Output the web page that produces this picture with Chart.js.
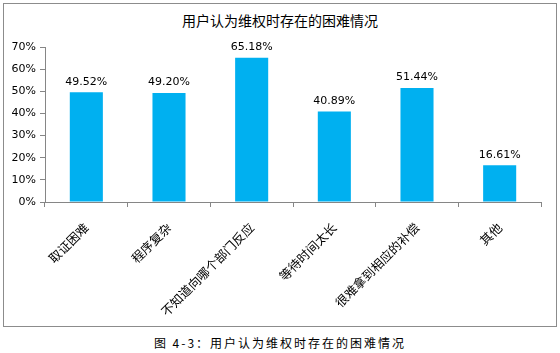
<!DOCTYPE html>
<html>
<head>
<meta charset="utf-8">
<script src="https://cdn.jsdelivr.net/npm/chart.js@4.4.0/dist/chart.umd.min.js"></script>
<style>
    body { margin: 0; background: #fff; }
    .frame { position: absolute; left: 3px; top: 3px; width: 552px; height: 322px; border: 1px solid #8c8c8c; }
    .title { position: absolute; left: 0; top: 10px; width: 560px; text-align: center; font: 14px "Noto Sans CJK SC", sans-serif; color: #000; }
    .wrap { position: absolute; left: 0; top: 0; width: 560px; height: 330px; }
    .caption { position: absolute; left: 0; top: 334px; width: 560px; text-align: center; font: 12px "Noto Sans CJK SC", serif; letter-spacing: 2px; color: #000; }
</style>
</head>
<body>
<div class="frame"></div>
<div class="title">用户认为维权时存在的困难情况</div>
<div class="wrap"><canvas id="chart"></canvas></div>
<div class="caption">图 4-3：用户认为维权时存在的困难情况</div>
<script>
const categories = ['取证困难', '程序复杂', '不知道向哪个部门反应', '等待时间太长', '很难拿到相应的补偿', '其他'];
const values = [49.52, 49.20, 65.18, 40.89, 51.44, 16.61];
const yTicks = [0, 10, 20, 30, 40, 50, 60, 70];

const barLabels = {
    id: 'barLabels',
    afterDatasetsDraw(chart) {
        const ctx = chart.ctx;
        const meta = chart.getDatasetMeta(0);
        ctx.save();
        ctx.font = '11px "DejaVu Sans", sans-serif';
        ctx.fillStyle = '#000';
        ctx.textAlign = 'center';
        ctx.textBaseline = 'bottom';
        meta.data.forEach((bar, i) => {
            ctx.fillText(values[i].toFixed(2) + '%', bar.x, bar.y - 5);
        });
        ctx.restore();
    }
};

new Chart(document.getElementById('chart'), {
    type: 'bar',
    data: {
        labels: categories,
        datasets: [{
            data: values,
            backgroundColor: '#00b0f0',
            categoryPercentage: 1,
            barPercentage: 0.4
        }]
    },
    options: {
        responsive: true,
        maintainAspectRatio: false,
        animation: false,
        layout: { padding: { top: 47, right: 19, left: 0, bottom: 0 } },
        plugins: {
            legend: { display: false },
            tooltip: { enabled: false }
        },
        scales: {
            y: {
                min: 0,
                max: 70,
                afterBuildTicks: scale => { scale.ticks = yTicks.map(v => ({ value: v })); },
                afterFit: scale => { scale.width = 45; },
                grid: { drawOnChartArea: false, drawTicks: true, tickLength: 5, color: '#868686' },
                border: { color: '#868686' },
                ticks: {
                    color: '#000',
                    font: { family: 'DejaVu Sans', size: 11 },
                    padding: 4,
                    callback: v => v + '%'
                }
            },
            x: {
                afterFit: scale => { scale.height = 128; },
                grid: { drawOnChartArea: false, drawTicks: true, tickLength: 5, color: '#868686', offset: true },
                border: { color: '#868686' },
                ticks: {
                    color: '#000',
                    font: { family: 'Noto Sans CJK SC', size: 12.5 },
                    minRotation: 45,
                    maxRotation: 45,
                    padding: 13
                }
            }
        }
    },
    plugins: [barLabels]
});
</script>
</body>
</html>
